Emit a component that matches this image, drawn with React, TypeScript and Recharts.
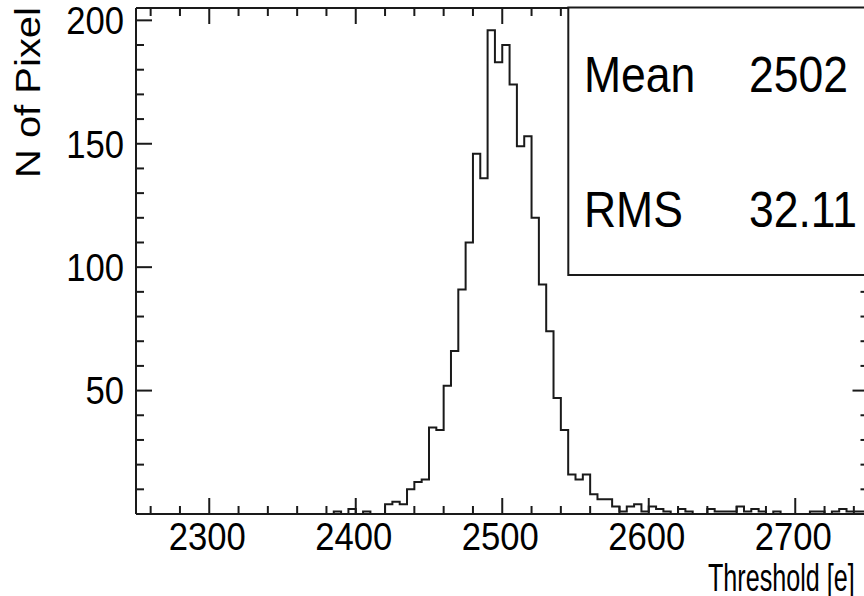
import { LineChart, Line, XAxis, YAxis } from "recharts";

// threshold histogram, 5 e bins from 2250 to 2750
const BIN_START = 2250;
const BIN_WIDTH = 5;

const counts = [
  0, 0, 0, 0, 0, 0, 0, 0, 0, 0,
  0, 0, 0, 0, 0, 0, 0, 0, 0, 0,
  0, 0, 0, 0, 0, 0, 0, 1, 0, 2,
  0, 1, 0, 0, 4, 5, 4, 10, 13, 14,
  35, 34, 52, 66, 91, 110, 146, 136, 196, 183,
  190, 174, 149, 153, 120, 93, 74, 47, 34, 16,
  14, 16, 8, 6, 6, 3, 1, 3, 4, 1,
  3, 2, 1, 0, 2, 1, 0, 0, 2, 1,
  1, 1, 3, 1, 2, 1, 0, 1, 0, 0,
  0, 0, 1, 1, 0, 1, 2, 1, 1, 1,
];

const xLabels = [2300, 2400, 2500, 2600, 2700];
const yLabels = [50, 100, 150, 200];
const statNames = ["Mean", "RMS"];
const statValues = ["2502", "32.11"];

const X_MIN = 2250;
const X_MAX = 2750;
const Y_MAX = 205;

const W = 880;
const H = 596;
const LEFT = 136;
const TOP = 8;
const RIGHT = 868.5;
const BOTTOM = 514;

const INK = "#1a1a1a";
const FONT = "'Liberation Sans', Arial, sans-serif";

const data = counts.map((n, i) => ({ x: BIN_START + i * BIN_WIDTH, n }));
data.push({ x: BIN_START + counts.length * BIN_WIDTH, n: counts[counts.length - 1] });

const xTicks: number[] = [];
for (let v = 2260; v < X_MAX; v += 20) xTicks.push(v);
const yTicks: number[] = [];
for (let v = 0; v <= 200; v += 10) yTicks.push(v);

function BottomTick(props: any) {
  const { x, payload } = props;
  const major = xLabels.includes(payload.value);
  return (
    <g>
      <line x1={x} x2={x} y1={BOTTOM} y2={BOTTOM - (major ? 16 : 8)} stroke={INK} strokeWidth={2} />
      {major && (
        <text
          transform={`translate(${x - 2},550) scale(0.9,1)`}
          textAnchor="middle"
          fontSize={38.5}
          fontFamily={FONT}
          fill="#000"
        >
          {payload.value}
        </text>
      )}
    </g>
  );
}

function TopTick(props: any) {
  const { x, payload } = props;
  const major = xLabels.includes(payload.value);
  return <line x1={x} x2={x} y1={TOP} y2={TOP + (major ? 16 : 8)} stroke={INK} strokeWidth={2} />;
}

function LeftTick(props: any) {
  const { y, payload } = props;
  const major = payload.value % 50 === 0;
  return (
    <g>
      <line x1={LEFT} x2={LEFT + (major ? 16 : 8)} y1={y} y2={y} stroke={INK} strokeWidth={2} />
      {yLabels.includes(payload.value) && (
        <text
          transform={`translate(124,${y + 13.8}) scale(0.9,1)`}
          textAnchor="end"
          fontSize={38.5}
          fontFamily={FONT}
          fill="#000"
        >
          {payload.value}
        </text>
      )}
    </g>
  );
}

function RightTick(props: any) {
  const { y, payload } = props;
  const major = payload.value % 50 === 0;
  return <line x1={RIGHT} x2={RIGHT - (major ? 16 : 8)} y1={y} y2={y} stroke={INK} strokeWidth={2} />;
}

export default function App() {
  return (
    <div
      style={{
        position: "absolute",
        left: 0,
        top: 0,
        width: 864,
        height: 596,
        overflow: "hidden",
        background: "#fff",
      }}
    >
      <LineChart width={W} height={H} data={data} margin={{ top: 0, left: 0, right: 0, bottom: 0 }}>
        <XAxis
          xAxisId="b"
          type="number"
          dataKey="x"
          domain={[X_MIN, X_MAX]}
          allowDataOverflow
          ticks={xTicks}
          interval={0}
          tick={(p: any) => <BottomTick {...p} />}
          tickLine={false}
          axisLine={{ stroke: INK, strokeWidth: 2 }}
          height={H - BOTTOM}
        />
        <XAxis
          xAxisId="t"
          orientation="top"
          type="number"
          dataKey="x"
          domain={[X_MIN, X_MAX]}
          allowDataOverflow
          ticks={xTicks}
          interval={0}
          tick={(p: any) => <TopTick {...p} />}
          tickLine={false}
          axisLine={{ stroke: INK, strokeWidth: 2 }}
          height={TOP}
        />
        <YAxis
          yAxisId="l"
          type="number"
          domain={[0, Y_MAX]}
          allowDataOverflow
          ticks={yTicks}
          interval={0}
          tick={(p: any) => <LeftTick {...p} />}
          tickLine={false}
          axisLine={{ stroke: INK, strokeWidth: 2 }}
          width={LEFT}
        />
        <YAxis
          yAxisId="r"
          orientation="right"
          type="number"
          domain={[0, Y_MAX]}
          allowDataOverflow
          ticks={yTicks}
          interval={0}
          tick={(p: any) => <RightTick {...p} />}
          tickLine={false}
          axisLine={{ stroke: INK, strokeWidth: 2 }}
          width={W - RIGHT}
        />
        <Line
          xAxisId="b"
          yAxisId="l"
          type="stepAfter"
          dataKey="n"
          stroke={INK}
          strokeWidth={2}
          dot={false}
          isAnimationActive={false}
        />
      </LineChart>

      <svg
        width={864}
        height={596}
        style={{ position: "absolute", left: 0, top: 0, pointerEvents: "none" }}
        fontFamily={FONT}
      >
        <text
          transform="translate(39.5,7) scale(0.88,1) rotate(-90)"
          textAnchor="end"
          fontSize={40}
          fill="#000"
        >
          N of Pixel
        </text>
        <text transform="translate(708,591) scale(0.645,1)" fontSize={39} fill="#000">
          Threshold [e]
        </text>
        <rect x={568.3} y={7.5} width={320} height={267.5} fill="#fff" stroke={INK} strokeWidth={2} />
        {statNames.map((name, i) => (
          <g key={name}>
            <text transform={`translate(584,${92 + i * 135}) scale(0.89,1)`} fontSize={50} fill="#000">
              {name}
            </text>
            <text transform={`translate(749,${92 + i * 135}) scale(0.89,1)`} fontSize={50} fill="#000">
              {statValues[i]}
            </text>
          </g>
        ))}
      </svg>
    </div>
  );
}
